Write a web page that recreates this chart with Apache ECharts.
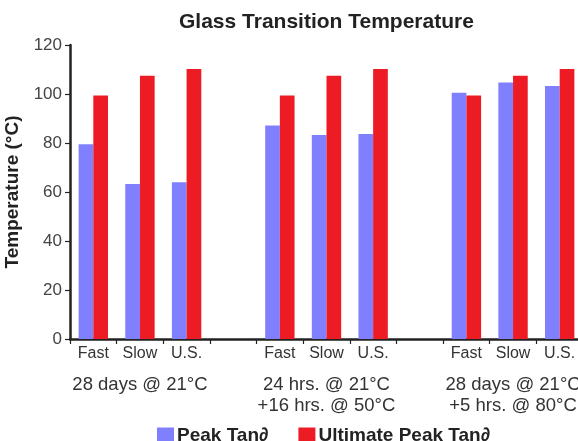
<!DOCTYPE html>
<html><head><meta charset="utf-8">
<script src="https://cdn.jsdelivr.net/npm/echarts@6/dist/echarts.min.js"></script>
<style>html,body{margin:0;padding:0;background:#fff}#c{width:578px;height:441px}</style>
</head><body><div id="c"></div>
<script>
const categories = ['Fast','Slow','U.S.','','Fast','Slow','U.S.','','Fast','Slow','U.S.'];
const groupLabels = ['','28 days @ 21°C','','','','24 hrs. @ 21°C\n+16 hrs. @ 50°C','','','','28 days @ 21°C\n+5 hrs. @ 80°C',''];
const peakTan = [79.5, 63.3, 64.0, null, 87.1, 83.3, 83.7, null, 100.5, 104.7, 103.3];
const ultimatePeakTan = [99.4, 107.4, 110.2, null, 99.4, 107.4, 110.2, null, 99.4, 107.4, 110.2];
const yTicks = {min: 0, max: 120, interval: 20};

const FONT = 'Liberation Sans, Arial, Helvetica, sans-serif';
const chart = echarts.init(document.getElementById('c'));
chart.setOption({
  animation: false,
  textStyle: {fontFamily: FONT},
  title: {text: 'Glass Transition Temperature', left: 174, top: 7,
    textStyle: {fontFamily: FONT, fontSize: 21, fontWeight: 'bold', color: '#222'}},
  grid: {left: 70, top: 45, bottom: 102, width: 513, containLabel: false, outerBoundsMode: 'none'},
  legend: {top: 421, left: 152, itemWidth: 17, itemHeight: 16, itemGap: 30,
    icon: 'rect',
    textStyle: {fontFamily: FONT, fontSize: 19, fontWeight: 'bold', color: '#222', padding: [0,0,0,-2]},
    data: ['Peak Tan∂', 'Ultimate Peak Tan∂']},
  xAxis: [{
    type: 'category', data: categories, position: 'bottom',
    axisLine: {lineStyle: {color: '#222', width: 2.5}},
    axisTick: {show: true, length: 5, lineStyle: {color: '#222', width: 1.2}, alignWithLabel: false},
    axisLabel: {interval: 0, margin: 7, fontSize: 16, color: '#333', fontFamily: FONT}
  }, {
    type: 'category', data: categories, position: 'bottom', gridIndex: 0,
    axisLine: {show: false}, axisTick: {show: false},
    axisLabel: {interval: 0, margin: 35, fontSize: 18.5, lineHeight: 21, color: '#333', fontFamily: FONT,
      formatter: (v, i) => groupLabels[i]}
  }],
  yAxis: {
    type: 'value', min: yTicks.min, max: yTicks.max, interval: yTicks.interval,
    name: 'Temperature (°C)', nameLocation: 'middle', nameGap: 31,
    nameTextStyle: {fontFamily: FONT, fontSize: 19, fontWeight: 'bold', color: '#222'},
    axisLine: {show: true, lineStyle: {color: '#222', width: 2.5}},
    axisTick: {show: true, length: 5, lineStyle: {color: '#222', width: 1.2}},
    axisLabel: {margin: 8, fontSize: 17, color: '#444', fontFamily: FONT},
    splitLine: {show: false}
  },
  series: [
    {name: 'Peak Tan∂', type: 'bar', data: peakTan, barGap: '0%', barCategoryGap: '37%',
      itemStyle: {color: '#8080ff'}},
    {name: 'Ultimate Peak Tan∂', type: 'bar', data: ultimatePeakTan, barGap: '0%', barCategoryGap: '37%',
      itemStyle: {color: '#ed1c24'}}
  ]
});
</script></body></html>
